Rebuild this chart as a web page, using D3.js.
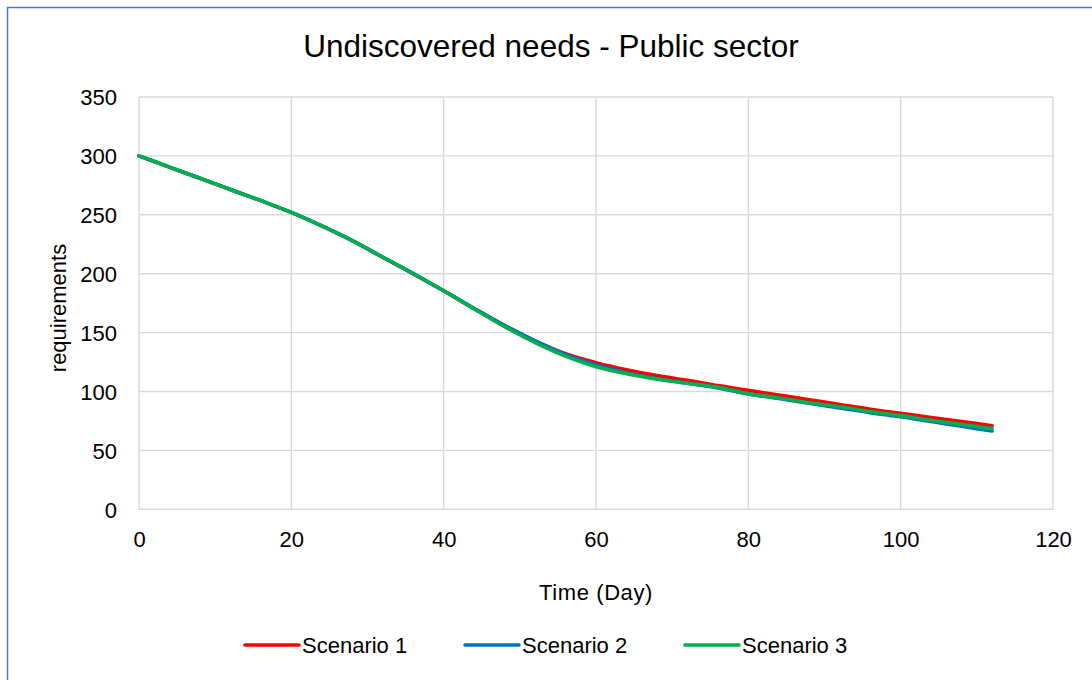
<!DOCTYPE html>
<html>
<head>
<meta charset="utf-8">
<script src="https://cdn.jsdelivr.net/npm/d3@7"></script>
<style>
  html, body { margin: 0; padding: 0; background: #fff; }
  svg { display: block; font-family: "Liberation Sans", Arial, sans-serif; }
</style>
</head>
<body>
<svg id="chart" width="1092" height="680"></svg>
<script>
// ---- data ----
const days = [0, 4, 8, 12, 16, 20, 24, 28, 32, 36, 40, 44, 48, 52, 56, 60, 64, 68, 72, 76, 80, 84, 88, 92, 96, 100, 104, 108, 112];
const scenario1 = [300, 290.5, 281, 271.5, 262, 252, 240.5, 228, 214, 200, 185.5, 170.5, 156, 143, 132, 124.5, 118.5, 113.5, 109.5, 105, 101, 97, 93, 89, 85, 81.5, 78, 74.5, 71];
const scenario2 = [300, 290.5, 281, 271.5, 262, 252, 240.5, 228, 214, 200, 185.5, 170.5, 156, 143, 131.5, 122.5, 116, 111, 107, 103, 98, 94, 90, 86, 82, 78.5, 74.5, 70.5, 66.5];
const scenario3 = [300, 290.5, 281, 271.5, 262, 252, 240.5, 228, 214, 200, 185.5, 170, 155, 141.5, 130, 121, 115, 110.5, 107, 103.5, 98, 94.5, 90.5, 87, 83, 79.5, 75.5, 72, 68.5];
const seriesNames = ["Scenario 1", "Scenario 2", "Scenario 3"];
const seriesColors = ["#ff0000", "#0070c0", "#00b050"];
const xTicks = [0, 20, 40, 60, 80, 100, 120];
const yTicks = [0, 50, 100, 150, 200, 250, 300, 350];
const titleText = "Undiscovered needs - Public sector";
const xTitle = "Time (Day)";
const yTitle = "requirements";

const allSeries = [scenario1, scenario2, scenario3];

// ---- layout ----
const svg = d3.select("#chart");
const plot = { left: 139, right: 1053, top: 97, bottom: 509.3 };

const x = d3.scaleLinear().domain([0, 120]).range([plot.left, plot.right]);
const y = d3.scaleLinear().domain([0, 350]).range([plot.bottom, plot.top]);

// outer border (only left/top edges visible in frame)
svg.append("rect")
  .attr("x", 7.5).attr("y", 7.5)
  .attr("width", 1100).attr("height", 700)
  .attr("fill", "none")
  .attr("stroke", "#4f7ac7")
  .attr("stroke-width", 1.5);

// title
svg.append("text")
  .attr("x", 551).attr("y", 57)
  .attr("text-anchor", "middle")
  .attr("font-size", 31.5)
  .attr("fill", "#000")
  .text(titleText);

// gridlines
const grid = svg.append("g");
grid.selectAll("line.h").data(yTicks).join("line")
  .attr("x1", plot.left).attr("x2", plot.right)
  .attr("y1", d => y(d)).attr("y2", d => y(d))
  .attr("stroke", "#d9d9d9").attr("stroke-width", 1.4);
grid.selectAll("line.v").data(xTicks).join("line")
  .attr("y1", plot.top).attr("y2", plot.bottom)
  .attr("x1", d => x(d)).attr("x2", d => x(d))
  .attr("stroke", "#d9d9d9").attr("stroke-width", 1.4);

// axes (labels only)
const xAxis = d3.axisBottom(x).tickValues(xTicks).tickSize(0).tickPadding(0);
const gx = svg.append("g").attr("transform", `translate(0,${plot.bottom})`).call(xAxis);
gx.select(".domain").remove();
gx.selectAll("text")
  .attr("dy", null)
  .attr("y", 38)
  .attr("font-size", 22)
  .attr("font-family", "Liberation Sans, Arial, sans-serif")
  .attr("fill", "#000");

const yAxis = d3.axisLeft(y).tickValues(yTicks).tickSize(0).tickPadding(0);
const gy = svg.append("g").attr("transform", `translate(${plot.left},0)`).call(yAxis);
gy.select(".domain").remove();
gy.selectAll("text")
  .attr("x", -22)
  .attr("dy", "0.36em")
  .attr("font-size", 22)
  .attr("font-family", "Liberation Sans, Arial, sans-serif")
  .attr("fill", "#000");

// axis titles
svg.append("text")
  .attr("x", 596).attr("y", 600)
  .attr("text-anchor", "middle")
  .attr("font-size", 22)
  .attr("letter-spacing", 0.6)
  .attr("fill", "#000")
  .text(xTitle);

svg.append("text")
  .attr("transform", "translate(66,308) rotate(-90)")
  .attr("text-anchor", "middle")
  .attr("font-size", 22)
  .attr("fill", "#000")
  .text(yTitle);

// lines
const line = d3.line()
  .x((d, i) => x(days[i]))
  .y(d => y(d))
  .curve(d3.curveMonotoneX);

svg.append("g").selectAll("path").data(allSeries).join("path")
  .attr("d", d => line(d))
  .attr("fill", "none")
  .attr("stroke", (d, i) => seriesColors[i])
  .attr("stroke-width", 3.6)
  .attr("stroke-linejoin", "round")
  .attr("stroke-linecap", "round");

// legend
const legendX = [245, 465, 685];
const legendY = 645;
const lg = svg.append("g").selectAll("g").data(seriesNames).join("g")
  .attr("transform", (d, i) => `translate(${legendX[i]},${legendY})`);
lg.append("line")
  .attr("x1", 0).attr("x2", 54).attr("y1", 0).attr("y2", 0)
  .attr("stroke", (d, i) => seriesColors[i])
  .attr("stroke-width", 3.6)
  .attr("stroke-linecap", "round");
lg.append("text")
  .attr("x", 57).attr("y", 0).attr("dy", "0.36em")
  .attr("font-size", 22)
  .attr("fill", "#000")
  .text(d => d);
</script>
</body>
</html>
